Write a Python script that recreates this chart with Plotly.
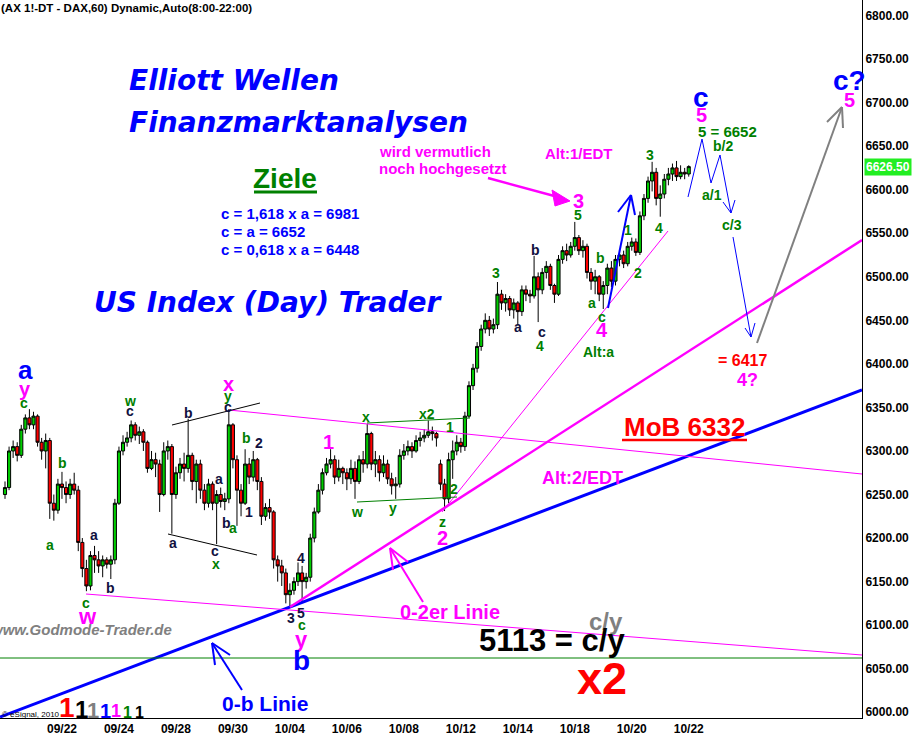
import plotly.graph_objects as go

# ---------------- data ----------------
tick_bars = [14, 28, 42, 56, 70, 84, 98, 112, 126, 140, 154, 168]
tick_dates = ["09/22", "09/24", "09/28", "09/30", "10/04", "10/06",
              "10/08", "10/12", "10/14", "10/18", "10/20", "10/22"]
price_ticks = [6000, 6050, 6100, 6150, 6200, 6250, 6300, 6350, 6400,
               6450, 6500, 6550, 6600, 6650, 6700, 6750, 6800]
last_price = 6626.5

closes = [6258, 6300, 6305, 6295, 6325, 6338, 6330, 6340, 6310, 6300,
          6312, 6240, 6232, 6262, 6258, 6250, 6262, 6255, 6195, 6165,
          6145, 6180, 6175, 6168, 6175, 6170, 6175, 6240, 6300, 6310,
          6315, 6330, 6318, 6322, 6310, 6280, 6290, 6285, 6250, 6300,
          6305, 6250, 6275, 6285, 6280, 6295, 6265, 6285, 6255, 6240,
          6262, 6240, 6250, 6242, 6245, 6330, 6290, 6255, 6240, 6285,
          6270, 6290, 6265, 6225, 6235, 6230, 6175, 6168, 6160, 6135,
          6140, 6150, 6160, 6150, 6155, 6200, 6230, 6255, 6275, 6285,
          6290, 6270, 6280, 6275, 6268, 6280, 6265, 6290, 6285, 6320,
          6285, 6290, 6275, 6285, 6268, 6260, 6262, 6295, 6300, 6305,
          6300, 6312, 6315, 6318, 6322, 6320, 6315, 6262, 6245, 6290,
          6300, 6310, 6305, 6340, 6375, 6395, 6420, 6440, 6450, 6440,
          6445, 6480, 6470, 6475, 6462, 6470, 6460, 6485, 6480, 6478,
          6500, 6485, 6505, 6512, 6490, 6480, 6520, 6530, 6525, 6535,
          6545, 6530, 6535, 6505, 6495, 6500, 6480, 6490, 6510, 6495,
          6520, 6525, 6515, 6535, 6540, 6528, 6570, 6590, 6610, 6620,
          6590, 6595, 6612, 6618, 6625, 6615, 6620, 6618, 6626.5]

opens = [6250, 6258, 6300, 6305, 6295, 6325, 6338, 6330, 6340, 6310,
         6300, 6312, 6240, 6232, 6262, 6258, 6250, 6262, 6255, 6195,
         6165, 6145, 6180, 6175, 6168, 6175, 6170, 6175, 6240, 6300,
         6310, 6315, 6330, 6318, 6322, 6310, 6280, 6290, 6285, 6250,
         6300, 6305, 6250, 6275, 6285, 6280, 6295, 6265, 6285, 6255,
         6240, 6262, 6240, 6250, 6242, 6245, 6330, 6290, 6255, 6240,
         6285, 6270, 6290, 6265, 6225, 6235, 6230, 6175, 6168, 6160,
         6135, 6140, 6150, 6160, 6150, 6155, 6200, 6230, 6255, 6275,
         6285, 6290, 6270, 6280, 6275, 6268, 6280, 6265, 6290, 6285,
         6320, 6285, 6290, 6275, 6285, 6268, 6260, 6262, 6295, 6300,
         6305, 6300, 6312, 6315, 6318, 6322, 6320, 6285, 6262, 6245,
         6290, 6300, 6310, 6305, 6340, 6375, 6395, 6420, 6440, 6450,
         6440, 6445, 6480, 6470, 6475, 6462, 6470, 6460, 6485, 6480,
         6478, 6500, 6485, 6505, 6512, 6490, 6480, 6520, 6530, 6525,
         6535, 6545, 6530, 6535, 6505, 6495, 6500, 6480, 6490, 6510,
         6495, 6520, 6525, 6515, 6535, 6540, 6528, 6570, 6590, 6610,
         6620, 6590, 6595, 6612, 6618, 6625, 6615, 6620, 6618]

highs = [6265, 6305, 6312, 6310, 6330, 6342, 6348, 6345, 6342, 6315,
         6320, 6315, 6250, 6268, 6276, 6265, 6268, 6275, 6260, 6200,
         6175, 6185, 6191, 6185, 6180, 6178, 6180, 6245, 6305, 6318,
         6322, 6335, 6333, 6328, 6325, 6312, 6300, 6298, 6290, 6310,
         6312, 6308, 6282, 6292, 6298, 6337, 6298, 6290, 6290, 6262,
         6268, 6265, 6255, 6258, 6252, 6348, 6332, 6295, 6262, 6302,
         6292, 6300, 6292, 6270, 6240, 6245, 6232, 6180, 6175, 6165,
         6148, 6155, 6172, 6168, 6160, 6205, 6235, 6262, 6280, 6292,
         6302, 6295, 6290, 6282, 6280, 6290, 6288, 6295, 6300, 6331,
         6322, 6300, 6295, 6295, 6290, 6275, 6270, 6302, 6308, 6312,
         6310, 6318, 6322, 6325, 6335, 6328, 6322, 6290, 6268, 6298,
         6312, 6318, 6315, 6345, 6380, 6400, 6425, 6445, 6458, 6455,
         6452, 6494, 6485, 6480, 6478, 6475, 6472, 6490, 6490, 6485,
         6524, 6505, 6510, 6518, 6515, 6492, 6525, 6535, 6538, 6540,
         6563, 6548, 6542, 6538, 6510, 6508, 6502, 6495, 6515, 6518,
         6525, 6532, 6530, 6540, 6545, 6544, 6575, 6595, 6615, 6632,
         6625, 6605, 6618, 6625, 6630, 6633, 6628, 6625, 6628]

lows = [6245, 6255, 6292, 6288, 6292, 6320, 6325, 6325, 6305, 6290,
        6280, 6222, 6220, 6228, 6245, 6240, 6245, 6250, 6185, 6155,
        6139, 6140, 6160, 6160, 6155, 6165, 6153, 6170, 6238, 6295,
        6305, 6310, 6312, 6308, 6300, 6275, 6278, 6270, 6230, 6248,
        6290, 6205, 6245, 6268, 6265, 6275, 6255, 6240, 6245, 6232,
        6235, 6232, 6193, 6235, 6232, 6240, 6280, 6214, 6225, 6238,
        6262, 6265, 6255, 6215, 6220, 6222, 6165, 6150, 6145, 6125,
        6121, 6135, 6145, 6127, 6142, 6150, 6195, 6228, 6250, 6272,
        6280, 6262, 6265, 6262, 6255, 6262, 6245, 6262, 6275, 6280,
        6278, 6270, 6265, 6270, 6262, 6250, 6245, 6258, 6290, 6295,
        6292, 6298, 6305, 6310, 6315, 6312, 6305, 6255, 6231, 6240,
        6268, 6295, 6298, 6300, 6338, 6370, 6390, 6415, 6435, 6432,
        6435, 6440, 6462, 6460, 6455, 6452, 6444, 6455, 6472, 6470,
        6475, 6448, 6480, 6498, 6485, 6470, 6478, 6515, 6518, 6522,
        6530, 6525, 6522, 6498, 6485, 6480, 6472, 6463, 6480, 6488,
        6490, 6512, 6510, 6512, 6530, 6524, 6525, 6565, 6585, 6598,
        6582, 6569, 6590, 6605, 6610, 6610, 6612, 6612, 6615]

bars = list(range(len(closes)))

# ---------------- geometry helpers (layout only) ----------------
W, H = 913, 738
PW, PH = 862, 718          # plot area in pixels
XR = [-1.2285, 210.57]
YR = [5993.4, 6817.8]


def X(px):
    return XR[0] + px / PW * (XR[1] - XR[0])


def Y(py):
    return YR[1] - py / PH * (YR[1] - YR[0])


G = "#008000"
D = "#101040"
M = "#FF00FF"
B = "#0000FF"
R = "#FF0000"
GR = "#808080"
FONT = "Arial, Liberation Sans, sans-serif"

fig = go.Figure()
fig.add_trace(go.Candlestick(
    x=bars, open=opens, high=[max(h, o, c) for h, o, c in zip(highs, opens, closes)],
    low=[min(l, o, c) for l, o, c in zip(lows, opens, closes)], close=closes,
    increasing=dict(line=dict(color="black", width=1), fillcolor="#00CC00"),
    decreasing=dict(line=dict(color="black", width=1), fillcolor="#FF0000"),
    whiskerwidth=0, showlegend=False, hoverinfo="skip"))

shapes = []


def line(p0, p1, color, width=1):
    shapes.append(dict(type="line", xref="x", yref="y",
                       x0=X(p0[0]), y0=Y(p0[1]), x1=X(p1[0]), y1=Y(p1[1]),
                       line=dict(color=color, width=width)))


def poly(points, color, width=1):
    for a, b in zip(points[:-1], points[1:]):
        line(a, b, color, width)


# trend / channel lines
line((0, 717), (862, 390), B, 3)
line((290, 607), (862, 240), M, 2.5)
line((86, 594), (862, 655), M, 1)
line((229, 410), (862, 474), M, 1)
line((442, 512), (668, 231), M, 1)
line((0, 658), (862, 658), G, 1)
line((357, 502), (457, 497), G, 1)
line((367, 423), (470, 418), G, 1)
line((172, 425), (260, 403), "black", 1)
line((168, 534), (257, 555), "black", 1)
line((622, 440), (747, 440), R, 2.5)
line((254, 192), (317, 192), G, 3)   # underline Ziele

# forecast paths
poly([(688, 197), (702, 139), (711, 183), (720, 155), (731, 213)], B, 1)
line((731, 213), (723, 202), B, 1)
line((731, 213), (735, 200), B, 1)
line((733, 237), (751, 337), B, 1)
line((751, 337), (745, 328), B, 1)
line((751, 337), (755, 323), B, 1)
line((608, 308), (631, 195), B, 2)
line((631, 195), (618, 212), B, 2)
line((631, 195), (635, 215), B, 2)
line((757, 343), (842, 107), GR, 2)
line((842, 107), (827, 122), GR, 2)
line((842, 107), (843, 128), GR, 2)

# pointer arrows
line((488, 178), (558, 197), M, 2.5)
shapes.append(dict(type="path", xref="x", yref="y",
                   path="M {},{} L {},{} L {},{} Z".format(
                       X(570), Y(201), X(552), Y(190), X(555), Y(206)),
                   fillcolor=M, line=dict(color=M, width=1)))
line((390, 548), (423, 602), M, 2)
line((390, 548), (408, 562), M, 2)
line((390, 548), (393, 570), M, 2)
line((212, 643), (242, 690), B, 2)
line((212, 643), (230, 655), B, 2)
line((212, 643), (215, 665), B, 2)

annotations = []


def txt(text, px, py, color, size, xanchor="center", bold=True, italic=False,
        family=FONT):
    t = text
    if italic:
        t = "<i>" + t + "</i>"
    if bold:
        t = "<b>" + t + "</b>"
    annotations.append(dict(text=t, x=X(px), y=Y(py), xref="x", yref="y",
                            xanchor=xanchor, yanchor="middle", showarrow=False,
                            borderpad=0,
                            font=dict(color=color, size=size, family=family)))


wave_labels = [
    ("a", 25, 370, B, 26), ("y", 25, 389, M, 20), ("c", 24, 403, G, 14),
    ("b", 62, 463, G, 14), ("a", 50, 545, G, 14), ("a", 94, 535, D, 14),
    ("b", 110, 588, D, 14), ("c", 86, 603, G, 14), ("w", 87, 616, M, 22),
    ("w", 130, 401, G, 14), ("c", 130, 411, D, 14), ("b", 188, 413, D, 14),
    ("a", 173, 543, D, 14), ("c", 215, 551, D, 14), ("x", 216, 564, G, 14),
    ("x", 228, 384, M, 20), ("y", 228, 396, G, 14), ("c", 228, 407, D, 14),
    ("b", 246, 438, G, 14), ("2", 259, 443, D, 14), ("a", 219, 479, D, 14),
    ("b", 226, 523, D, 14), ("a", 233, 528, G, 14), ("1", 249, 512, D, 14),
    ("4", 301, 558, D, 14), ("3", 291, 618, D, 14), ("5", 301, 613, D, 14),
    ("c", 302, 625, G, 14), ("y", 301, 639, M, 22), ("b", 301, 660, B, 28),
    ("1", 328, 442, M, 20), ("w", 357, 512, G, 14), ("x", 366, 417, G, 14),
    ("y", 393, 508, G, 14), ("x2", 427, 414, G, 14), ("1", 450, 427, G, 14),
    ("2", 454, 489, G, 14), ("z", 442, 522, G, 14), ("2", 442, 538, M, 20),
    ("3", 496, 273, G, 14), ("a", 518, 327, D, 14), ("b", 535, 250, D, 14),
    ("c", 542, 332, D, 14), ("4", 540, 346, G, 14), ("5", 578, 215, G, 14),
    ("3", 578, 201, M, 20), ("b", 600, 258, G, 14), ("a", 592, 303, G, 14),
    ("c", 602, 317, G, 14), ("4", 602, 330, M, 20), ("Alt:a", 598, 352, G, 14),
    ("3", 650, 155, G, 14), ("1", 628, 230, G, 14), ("4", 659, 228, G, 14),
    ("2", 638, 273, G, 14), ("c", 701, 97, B, 28), ("5", 701, 115, M, 20),
    ("5 = 6652", 727, 131, G, 15), ("b/2", 723, 146, G, 14),
    ("a/1", 712, 195, G, 14), ("c/3", 732, 225, G, 14),
    ("c?", 849, 80, B, 28), ("5", 849, 100, M, 20),
    ("= 6417", 742, 360, R, 16), ("4?", 747, 380, M, 18),
]
for t, px, py, c, s in wave_labels:
    txt(t, px, py, c, s)

# headline texts
DJ = "DejaVu Sans, Verdana, sans-serif"
txt("Elliott Wellen", 128, 80, B, 28, xanchor="left", italic=True, family=DJ)
txt("Finanzmarktanalysen", 128, 122, B, 28, xanchor="left", italic=True, family=DJ)
txt("US Index (Day) Trader", 93, 302, B, 28, xanchor="left", italic=True, family=DJ)
txt("Ziele", 285, 178, G, 28)
txt("c = 1,618 x a = 6981", 220, 213, B, 15, xanchor="left")
txt("c = a = 6652", 220, 231, B, 15, xanchor="left")
txt("c = 0,618 x a = 6448", 220, 249, B, 15, xanchor="left")
txt("wird vermutlich", 378, 151, M, 15, xanchor="left")
txt("noch hochgesetzt", 378, 168, M, 15, xanchor="left")
txt("Alt:1/EDT", 579, 153, M, 15)
txt("MoB 6332", 684, 427, R, 26)
txt("Alt:2/EDT", 582, 478, M, 18)
txt("0-2er Linie", 450, 612, M, 20)
txt("c/y", 606, 621, GR, 24)
txt("5113 = c/y", 552, 640, "black", 31)
txt("x2", 602, 678, R, 45)
txt("0-b Linie", 265, 703, B, 21)
txt("www.Godmode-Trader.de", 173, 629, GR, 15, xanchor="right", italic=True)
txt("(AX 1!-DT - DAX,60) Dynamic,Auto(8:00-22:00)", 0, 8, "black", 11.5,
    xanchor="left")
txt("© eSignal, 2010", 1, 714, "black", 8, xanchor="left", bold=False)

ones = [(67, 707, R, 28), (81, 709, "black", 24), (93, 710, GR, 22),
        (105, 711, B, 20), (116, 711, M, 18), (127, 712, G, 16),
        (139, 712, "black", 16)]
for px, py, c, s in ones:
    txt("1", px, py, c, s)

# last price box on the axis
annotations.append(dict(text="<b>6626.50</b>", x=1, xref="paper", y=last_price,
                        yref="y", xanchor="left", yanchor="middle", xshift=2,
                        showarrow=False, bgcolor="#22EE22", borderpad=1,
                        font=dict(color="white", size=12, family=FONT)))

fig.update_layout(
    width=W, height=H,
    margin=dict(l=0, r=W - PW, t=0, b=H - PH),
    paper_bgcolor="white", plot_bgcolor="white",
    font=dict(family=FONT, color="black"),
    showlegend=False, boxgap=0.2, boxgroupgap=0.05,
    shapes=shapes, annotations=annotations,
    xaxis=dict(range=XR, showgrid=False, zeroline=False, showline=True,
               linecolor="black", linewidth=1, ticks="", tickmode="array",
               tickvals=tick_bars, ticktext=tick_dates,
               tickfont=dict(size=12, family=FONT, color="black", weight="bold"),
               rangeslider=dict(visible=False), fixedrange=True),
    yaxis=dict(range=YR, side="right", showgrid=False, zeroline=False,
               showline=True, linecolor="black", linewidth=1, ticks="",
               tickmode="array", tickvals=price_ticks,
               ticktext=["%.2f" % v for v in price_ticks],
               tickfont=dict(size=12, family=FONT, color="black", weight="bold"),
               fixedrange=True),
)

fig.write_html("out.html", config={"staticPlot": True},
               post_script="document.body.style.margin='0';"
                           "document.body.style.padding='0';")
